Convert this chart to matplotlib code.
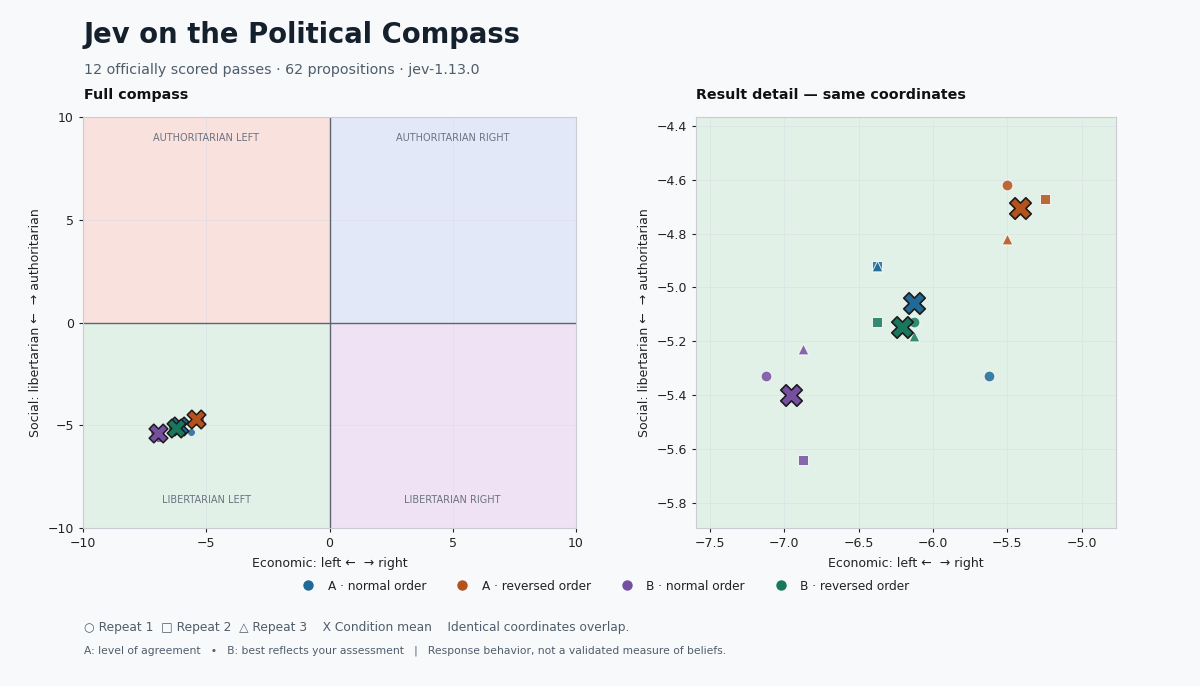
import matplotlib
matplotlib.use("Agg")
import matplotlib.pyplot as plt
from matplotlib.lines import Line2D

# ---- data ----
conditions = ["A · normal order", "A · reversed order", "B · normal order", "B · reversed order"]
colors = ["#1f6a98", "#b3521d", "#7650a0", "#18785b"]
# repeats 1..3 (circle, square, triangle)
econ = {
    "A · normal order":   [-5.625, -6.375, -6.375],
    "A · reversed order": [-5.50, -5.25, -5.50],
    "B · normal order":   [-7.125, -6.875, -6.875],
    "B · reversed order": [-6.125, -6.375, -6.125],
}
social = {
    "A · normal order":   [-5.33, -4.92, -4.92],
    "A · reversed order": [-4.62, -4.67, -4.82],
    "B · normal order":   [-5.33, -5.64, -5.23],
    "B · reversed order": [-5.13, -5.13, -5.18],
}
repeat_markers = ["o", "s", "^"]
quadrant_labels = ["AUTHORITARIAN LEFT", "AUTHORITARIAN RIGHT", "LIBERTARIAN LEFT", "LIBERTARIAN RIGHT"]

BG = "#f8f9fb"
fig = plt.figure(figsize=(12, 6.86), dpi=100, facecolor=BG)

def px(x, y):
    return x / 1200, 1 - y / 686

axL = fig.add_axes([83/1200, 1-528/686, 493/1200, 411/686])
axR = fig.add_axes([696/1200, 1-528/686, 420/1200, 411/686])

for ax in (axL, axR):
    ax.set_facecolor(BG)
    for s in ax.spines.values():
        s.set_color("#c9cdd3")
        s.set_linewidth(0.8)
    ax.tick_params(labelsize=9, colors="#222222", length=3, width=0.8)
    ax.grid(True, color="#d9dde2", linewidth=0.6, alpha=0.6)
    ax.set_axisbelow(True)
    ax.set_xlabel("Economic: left ←  → right", fontsize=9, color="#222222", labelpad=5)
    ax.set_ylabel("Social: libertarian ←  → authoritarian", fontsize=9, color="#222222", labelpad=4)

# left panel quadrants
axL.set_xlim(-10, 10)
axL.set_ylim(-10, 10)
axL.axvspan(-10, 0, ymin=0.5, ymax=1, color="#f9e1de", zorder=0, lw=0)
axL.axvspan(0, 10, ymin=0.5, ymax=1, color="#e2e8f7", zorder=0, lw=0)
axL.axvspan(-10, 0, ymin=0, ymax=0.5, color="#e1f1e7", zorder=0, lw=0)
axL.axvspan(0, 10, ymin=0, ymax=0.5, color="#efe2f5", zorder=0, lw=0)
axL.axhline(0, color="#5b6470", lw=1.0, zorder=1)
axL.axvline(0, color="#5b6470", lw=1.0, zorder=1)
axL.set_xticks([-10, -5, 0, 5, 10])
axL.set_yticks([-10, -5, 0, 5, 10])
qpos = [(-5, 9), (5, 9), (-5, -8.65), (5, -8.65)]
for lab, (qx, qy) in zip(quadrant_labels, qpos):
    axL.text(qx, qy, lab, fontsize=7, color="#6b7280", ha="center", va="center")

# right panel
axR.set_facecolor("#e1f1e7")
axR.set_xlim(-7.594, -4.77)
axR.set_ylim(-5.893, -4.367)
axR.set_xticks([-7.5, -7.0, -6.5, -6.0, -5.5, -5.0])
axR.set_yticks([-5.8, -5.6, -5.4, -5.2, -5.0, -4.8, -4.6, -4.4])
axR.xaxis.set_major_formatter(matplotlib.ticker.FuncFormatter(lambda v, p: f"{v:.1f}".replace("-", "−")))
axR.yaxis.set_major_formatter(matplotlib.ticker.FuncFormatter(lambda v, p: f"{v:.1f}".replace("-", "−")))

for cond, col in zip(conditions, colors):
    xs, ys = econ[cond], social[cond]
    mx, my = sum(xs) / 3, sum(ys) / 3
    for xv, yv, mk in zip(xs, ys, repeat_markers):
        axL.scatter(xv, yv, marker=mk, s=32, color=col, alpha=0.85, edgecolors="white", linewidths=0.6, zorder=3)
        axR.scatter(xv, yv, marker=mk, s=60, color=col, alpha=0.85, edgecolors="white", linewidths=0.7, zorder=3)
    axL.scatter(mx, my, marker="X", s=180, color=col, edgecolors="#1b1b1b", linewidths=1.1, zorder=4)
    axR.scatter(mx, my, marker="X", s=240, color=col, edgecolors="#1b1b1b", linewidths=1.2, zorder=4)

# titles
fig.text(*px(84, 35), "Jev on the Political Compass", fontsize=19.8, fontweight="bold", color="#15202d", va="center")
fig.text(*px(84, 70), "12 officially scored passes · 62 propositions · jev-1.13.0", fontsize=10.25, color="#4f5d6b", va="center")
fig.text(*px(84, 95), "Full compass", fontsize=10.3, fontweight="bold", color="#111111", va="center")
fig.text(*px(696, 95), "Result detail — same coordinates", fontsize=10.3, fontweight="bold", color="#111111", va="center")

# legend
handles = [Line2D([], [], marker="o", ls="", markersize=7.5, color=c, markeredgewidth=0) for c in colors]
fig.legend(handles, conditions, loc="center", bbox_to_anchor=px(603, 586), ncol=4, frameon=False,
           fontsize=8.7, handletextpad=0.6, columnspacing=2.0, labelcolor="#222222")

fig.text(*px(84, 627), "○ Repeat 1  □ Repeat 2  △ Repeat 3    X Condition mean    Identical coordinates overlap.",
         fontsize=8.8, color="#4f5d6b", va="center")
fig.text(*px(84, 651), "A: level of agreement   •   B: best reflects your assessment   |   Response behavior, not a validated measure of beliefs.",
         fontsize=7.75, color="#4f5d6b", va="center")

fig.savefig("out.png", dpi=100, facecolor=BG)
